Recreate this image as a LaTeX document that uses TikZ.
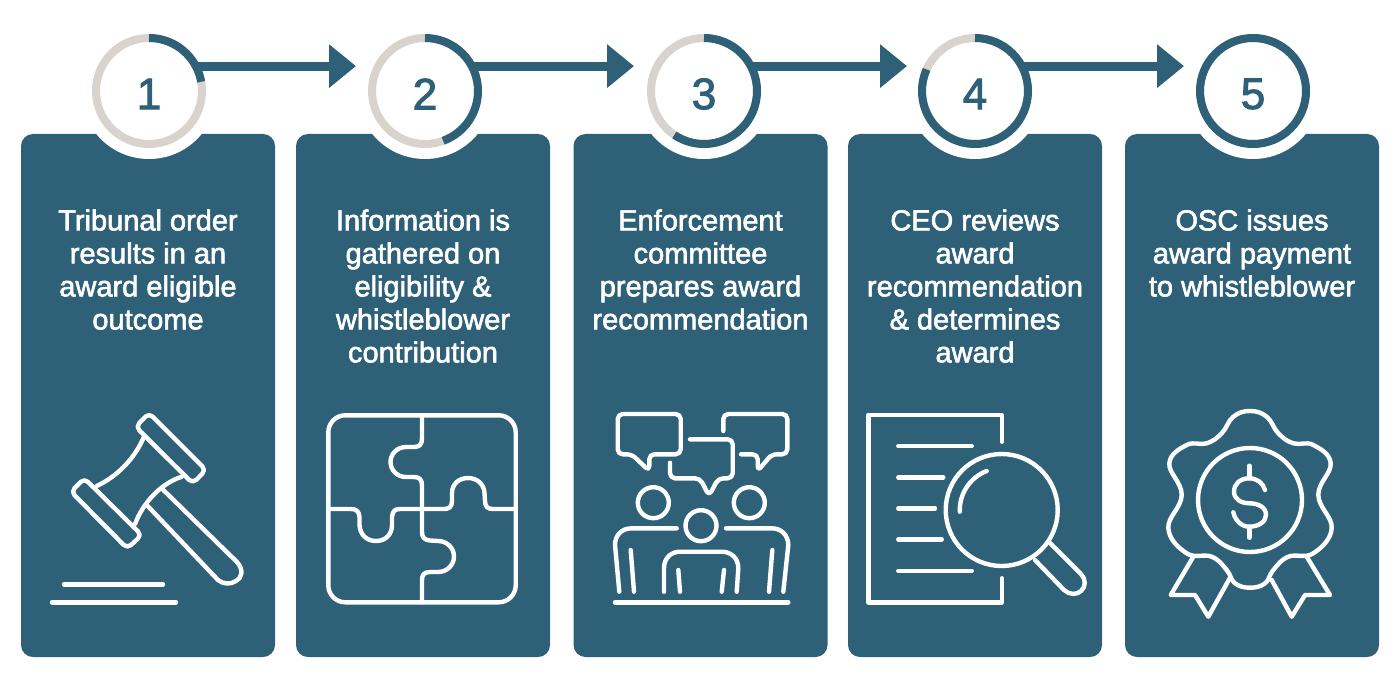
\documentclass[tikz,border=0pt]{standalone}
\usepackage{fontspec}
\setmainfont{Liberation Sans}
\usetikzlibrary{arrows.meta,positioning}
\definecolor{cardblue}{HTML}{2E6078}
\definecolor{ringgrey}{HTML}{D8D4CD}
\newcommand{\heavier}[1]{\special{pdf:code 2 Tr #1 w}}

\begin{document}
\begin{tikzpicture}[
  x=0.5pt, y=-0.5pt,
  stepcard/.style={rectangle, fill=cardblue, rounded corners=6pt, minimum width=127pt, minimum height=261.5pt, inner sep=0pt, outer sep=0pt},
  halo/.style={circle, fill=white, minimum size=68pt, inner sep=0pt, outer sep=0pt},
  ringbase/.style={circle, draw=ringgrey, line width=4pt, minimum size=53pt, inner sep=0pt, outer sep=0pt},
  ringarc/.style={draw=cardblue, line width=4pt},
  stepnum/.style={text=cardblue, font=\fontsize{22}{22}\selectfont\heavier{0.5}, inner sep=0pt},
  steptext/.style={text=white, align=center, font=\fontsize{14.5}{16.5}\selectfont\heavier{0.3}, inner sep=0pt},
  flowarrow/.style={draw=cardblue, line width=4.5pt, -{Triangle[length=13.5pt, width=21pt]}},
  icon/.style={draw=white, line width=2.2pt, line cap=round, line join=round}
]
\useasboundingbox (0,0) rectangle (1400,679);

\foreach \n/\cx/\rx/\label in {
  1/148/149/{Tribunal order\\results in an\\award eligible\\outcome},
  2/423/425/{Information is\\gathered on\\eligibility \&\\whistleblower\\contribution},
  3/700.5/704/{Enforcement\\committee\\prepares award\\recommendation},
  4/975/975/{CEO reviews\\award\\recommendation\\\& determines\\award},
  5/1252/1253/{OSC issues\\award payment\\to whistleblower}} {
  \node[stepcard] (card\n) at (\cx,395.5) {};
  \node[steptext, below=37.5pt of card\n.north] (label\n) {\label};
  \node[halo] (halo\n) at (\rx,91) {};
}

\coordinate (tip1) at (356,66);
\coordinate (tip2) at (634,66);
\coordinate (tip3) at (907,66);
\coordinate (tip4) at (1184,66);

\foreach \n/\rx in {1/149, 2/425, 3/704, 4/975, 5/1253} {
  \node[ringbase] (ring\n) at (\rx,91) {};
  \node[stepnum] (num\n) at (\rx,94) {\n};
}
\foreach \n in {1,2,3,4}
  \draw[flowarrow] (ring\n.28) -- (ring\n.28 -| tip\n);
\foreach \n/\sweep in {1/80, 2/160, 3/214, 4/294, 5/360}
  \draw[ringarc] (ring\n.north) arc[start angle=-90, delta angle=\sweep, radius=53];

% gavel
\draw[icon, rounded corners=2.5pt] (149,413) -- (206,470) -- (192.7,483.5) -- (135.7,426.7) -- cycle;
\draw[icon, rounded corners=2.5pt] (84.3,478.3) -- (141.7,535) -- (127.3,548.5) -- (71,491.7) -- cycle;
\draw[icon] (144,436.7) .. controls (135,458) and (118,476) .. (96.7,486);
\draw[icon] (181.7,476.7) .. controls (160,484) and (143,503) .. (135,524);
\draw[icon] (163.3,490) -- (237,562) .. controls (244,570) and (242,578) .. (236,581) .. controls (230,585) and (223,584) .. (218,580) -- (147.7,506);
\draw[icon] (64,584.3) -- (163,584.3);
\draw[icon] (52,602.3) -- (176,602.3);

% puzzle
\draw[icon, rounded corners=8.5pt] (328.3,415.3) rectangle (515.7,602.3);
\draw[icon] (328.3,509) -- (351,509) .. controls (356,509) and (359,511) .. (359.5,517) -- (359.5,525) .. controls (360,535) and (367,541) .. (376,541) .. controls (385,541) and (392,535) .. (392,525) -- (392,517) .. controls (392.5,511) and (395,509) .. (400,509) -- (444,509) .. controls (449,509) and (452,507) .. (452,501) -- (452,493) .. controls (452,484) and (459,478) .. (468,478) .. controls (477,478) and (484,484) .. (484.5,493) -- (485,501) .. controls (485,507) and (488,509) .. (493,509) -- (515.7,509);
\draw[icon] (422,415.3) -- (422,438) .. controls (422,444) and (420,447) .. (414,447) -- (406,447) .. controls (397,447) and (390.5,454) .. (390.5,462) .. controls (390.5,470) and (397,477) .. (406,477) -- (414,477) .. controls (420,477) and (422,480) .. (422,486) -- (422,532) .. controls (422,537) and (424,540) .. (430,540.5) -- (438,541) .. controls (447,541) and (454,548) .. (454,556.5) .. controls (454,565) and (447,572) .. (438,572) -- (430,572) .. controls (424,572) and (422,575) .. (422,580) -- (422,602.3);

% people talking
\draw[icon, rounded corners=2.5pt] (631.7,454.3) -- (617.7,454.3) -- (617.7,414) -- (680.7,414) -- (680.7,454.3) -- (649.3,454.3) -- (649.3,471) -- cycle;
\draw[icon, rounded corners=2.5pt] (723.3,431) -- (723.3,414) -- (787.3,414) -- (787.3,454.3) -- (771.7,454.3) -- (757.7,471) -- (757.7,454.3) -- (741,454.3);
\draw[icon, rounded corners=2.5pt] (690,439.3) -- (732.7,439.3) -- (732.7,478.3) -- (718.3,478.3) -- (709,496) -- (700,478.3) -- (670,478.3) -- (670,462.7);
\draw[icon] (653.3,502.7) circle (15.5);
\draw[icon] (749.3,502.7) circle (15.5);
\draw[icon] (701,525.7) circle (15.5);
\draw[icon] (676.7,528.3) -- (631.7,528.3) .. controls (621,528.3) and (615,536) .. (615,545) -- (619.3,591.7);
\draw[icon] (630.7,550) -- (634,591.7);
\draw[icon] (726,528.3) -- (771.7,528.3) .. controls (782,528.3) and (788.3,536) .. (788.3,545) -- (783.3,591.7);
\draw[icon] (772.3,550) -- (769,591.7);
\draw[icon] (664,591.7) -- (664,568.3) .. controls (664,558) and (671,551.7) .. (680,551.7) -- (721.7,551.7) .. controls (731,551.7) and (738.3,558) .. (738.3,568.3) -- (736.7,591.7);
\draw[icon] (678.3,570) -- (680,591.7);
\draw[icon] (724,570) -- (721.7,591.7);
\draw[icon] (615,602.3) -- (788.3,602.3);

% document and lens
\draw[icon] (1001.7,441.7) -- (1001.7,415) -- (868.3,415) -- (868.3,602.3) -- (1001.7,602.3) -- (1001.7,578.3);
\foreach \ly/\lx in {446/971.7, 477.3/943.3, 508.3/935, 539.3/941.7, 570.7/971.7}
  \draw[icon] (898.3,\ly) -- (\lx,\ly);
\draw[icon] (1001.7,510) circle (56);
\draw[icon] (986.7,471) arc[start angle=249, end angle=178, radius=42];
\draw[icon] (1050,543) -- (1081,574) .. controls (1086,579) and (1086,587) .. (1081,591) .. controls (1077,595) and (1069,595) .. (1064,590) -- (1035,560);

% rosette
\draw[icon] plot[smooth cycle, tension=0.7] coordinates {(1250,411) (1266.7,416.7) (1278.3,433.3) (1293.3,443.3) (1313.3,445) (1330.7,463.3) (1318.3,495) (1331.7,528.3) (1313.3,553.3) (1288.3,556.7) (1273.3,570) (1265,583.3) (1250,587.7) (1235,583.3) (1226.7,570) (1211.7,556.7) (1186.7,553.3) (1168.3,528.3) (1181.7,495) (1169.3,463.3) (1186.7,445) (1206.7,443.3) (1221.7,433.3) (1233.3,416.7)};
\draw[icon] (1250,500) circle (52);
\draw[icon] (1249.3,465.7) -- (1249.3,478.3);
\draw[icon] (1249.3,526.7) -- (1249.3,537.7);
\draw[icon] (1265,490) .. controls (1263,483) and (1257,478.3) .. (1249.3,478.3) .. controls (1240,478.3) and (1234,484) .. (1234,491.7) .. controls (1234,499) and (1241,503.3) .. (1249.3,503.3) .. controls (1258,503.3) and (1266,507) .. (1266,515) .. controls (1266,522) and (1258,526.7) .. (1249.3,526.7) .. controls (1241,526.7) and (1235,520) .. (1233.3,512.3);
\draw[icon] (1193.3,556.7) -- (1170.7,595) -- (1195,595) -- (1208.3,616.7) -- (1230,577.7);
\draw[icon] (1306.7,556.7) -- (1330,595) -- (1305,595) -- (1291.7,616.7) -- (1271.7,580);
\end{tikzpicture}
\end{document}
